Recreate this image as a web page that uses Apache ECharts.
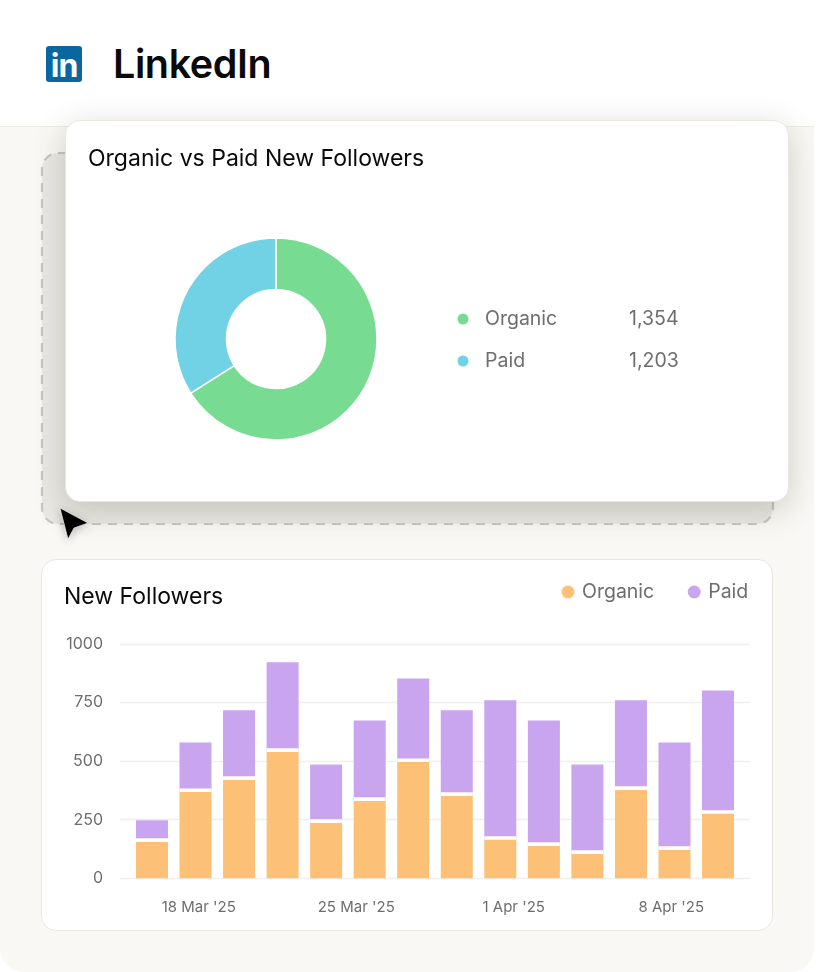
<!DOCTYPE html>
<html lang="en">
  <head>
    <meta charset="UTF-8" />
    <title>LinkedIn followers</title>
    <script src="https://cdn.jsdelivr.net/npm/echarts@6/dist/echarts.min.js"></script>
    <style>
      html, body { margin: 0; padding: 0; background: #fff; font-family: Inter, sans-serif; }
      #page { position: relative; width: 814px; height: 972px; background: #f9f8f4; border-radius: 24px; overflow: hidden; }
      #header { position: absolute; left: 0; top: 0; width: 814px; height: 126px; background: #fff; border-bottom: 1.5px solid #ecebe6; }
      #logo { position: absolute; left: 46px; top: 46px; width: 36px; height: 36px; border-radius: 3px; background: #0a669e; color: #fff; font-size: 32px; font-weight: 700; line-height: 40px; text-align: center; letter-spacing: -1px; }
      #brand { position: absolute; left: 113px; top: 41px; font-size: 39.5px; line-height: 46px; font-weight: 600; color: #0a0a0a; letter-spacing: -0.4px; }
      #dashed { position: absolute; left: 0; top: 0; }
      .card { position: absolute; box-sizing: border-box; background: #fff; border: 1.5px solid #e9e7e0; border-radius: 15px; }
      #cardTop { left: 65px; top: 120px; width: 724px; height: 382px; box-shadow: 0 8px 32px rgba(70, 65, 50, 0.24); }
      #cardBottom { left: 41px; top: 559px; width: 732px; height: 372px; }
      .chart { position: absolute; }
      #donut { left: 65px; top: 121px; width: 724px; height: 381px; }
      #bars { left: 41px; top: 559px; width: 732px; height: 372px; }
      #cursor { position: absolute; left: 0; top: 0; filter: drop-shadow(0 2px 4px rgba(0, 0, 0, 0.25)); }
    </style>
  </head>
  <body>
    <div id="page">
      <div id="header"></div>
      <div id="logo">in</div>
      <div id="brand">LinkedIn</div>
      <svg id="dashed" width="814" height="972">
        <rect x="42" y="153" width="731" height="371" rx="16" fill="#e9e8e3" stroke="#c6c5bf" stroke-width="2.2" stroke-dasharray="9 7" />
      </svg>
      <div id="cardTop" class="card"></div>
      <div id="cardBottom" class="card"></div>
      <div id="donut" class="chart"></div>
      <div id="bars" class="chart"></div>
      <svg id="cursor" width="814" height="972">
        <polygon points="60,508 88,523 74,528 68,539" fill="#000" stroke="#fff" stroke-width="0.6" />
      </svg>
    </div>

    <script>
      // donut: the drawn shares differ from the printed totals, so both are kept
      var shareNames = ["Organic", "Paid"];
      var shareValues = [66, 34];
      var shareTotals = ["1,354", "1,203"];
      var shareColors = ["#77dc91", "#70d2e4"];

      // stacked bars
      var barSlots = ["1", "2", "3", "4", "5", "6", "7", "8", "9", "10", "11", "12", "13", "14"];
      var organic = [155, 368, 420, 539, 236, 330, 496, 351, 164, 138, 104, 377, 121, 275];
      var paid = [93, 212, 297, 383, 250, 344, 357, 366, 596, 536, 382, 383, 459, 527];
      var dateLabels = ["18 Mar '25", "25 Mar '25", "1 Apr '25", "8 Apr '25"];
      var barColors = ["#fcc077", "#c9a5ef"];

      var fontName = "Inter";
      var greyText = "#6e6e6e";

      var donutChart = echarts.init(document.getElementById("donut"));
      donutChart.setOption({
        animation: false,
        title: {
          text: "Organic vs Paid New Followers",
          left: 18,
          top: 22,
          textStyle: { fontFamily: fontName, fontSize: 23, fontWeight: 400, color: "#0a0a0a" },
        },
        legend: {
          left: 385.5,
          top: 183,
          orient: "vertical",
          icon: "circle",
          itemWidth: 13,
          itemHeight: 13,
          itemGap: 22,
          selectedMode: false,
          data: shareNames,
          formatter: function (name) {
            return "{n|" + name + "}{v|" + shareTotals[shareNames.indexOf(name)] + "}";
          },
          textStyle: {
            rich: {
              n: { fontFamily: fontName, fontSize: 19.5, color: greyText, width: 144, padding: [0, 0, 0, 10.5], height: 24 },
              v: { fontFamily: fontName, fontSize: 19.5, color: greyText, height: 24 },
            },
          },
        },
        series: [
          {
            type: "pie",
            center: [211, 218],
            radius: [49.5, 101],
            startAngle: 90,
            label: { show: false },
            itemStyle: { borderColor: "#fff", borderWidth: 1.5 },
            data: shareNames.map(function (name, i) {
              return { name: name, value: shareValues[i], itemStyle: { color: shareColors[i] } };
            }),
          },
        ],
      });

      var barsChart = echarts.init(document.getElementById("bars"));
      barsChart.setOption({
        animation: false,
        title: {
          text: "New Followers",
          left: 18,
          top: 22,
          textStyle: { fontFamily: fontName, fontSize: 23, fontWeight: 400, color: "#0a0a0a" },
        },
        legend: {
          left: 515.5,
          top: 18,
          icon: "circle",
          itemWidth: 13,
          itemHeight: 13,
          itemGap: 33.5,
          selectedMode: false,
          data: ["Organic", "Paid"],
          textStyle: { fontFamily: fontName, fontSize: 19.5, color: greyText, padding: [0, 0, 0, 2.5] },
        },
        // the labels and gridlines span the wider grid, the bars sit in the inset one
        grid: [
          { left: 79, top: 85, width: 630, height: 234.3 },
          { left: 89.2, top: 85, width: 609.6, height: 234.3 },
        ],
        xAxis: [
          {
            type: "category",
            gridIndex: 0,
            data: dateLabels,
            axisLine: { show: false },
            axisTick: { show: false },
            axisLabel: { margin: 22, fontFamily: fontName, fontSize: 15, color: greyText },
          },
          { type: "category", gridIndex: 1, data: barSlots, show: false },
        ],
        yAxis: [
          {
            type: "value",
            gridIndex: 0,
            min: 0,
            max: 1000,
            interval: 250,
            axisLine: { show: false },
            axisTick: { show: false },
            axisLabel: {
              margin: 17,
              fontFamily: fontName,
              fontSize: 16,
              color: greyText,
              padding: [4, 0, 0, 0],
              formatter: function (value) {
                return String(value);
              },
            },
            splitLine: { lineStyle: { color: "#f0efeb", width: 1.3 } },
          },
          { type: "value", gridIndex: 1, min: 0, max: 1000, show: false },
        ],
        series: [
          {
            name: "Organic",
            type: "bar",
            stack: "followers",
            xAxisIndex: 1,
            yAxisIndex: 1,
            barWidth: 32,
            z: 3,
            data: organic,
            // white notch between the two parts of a bar
            itemStyle: { color: barColors[0], shadowColor: "#fff", shadowBlur: 0, shadowOffsetY: -3.7 },
          },
          {
            name: "Paid",
            type: "bar",
            stack: "followers",
            xAxisIndex: 1,
            yAxisIndex: 1,
            barWidth: 32,
            z: 2,
            data: paid,
            itemStyle: { color: barColors[1] },
          },
        ],
      });
    </script>
  </body>
</html>
